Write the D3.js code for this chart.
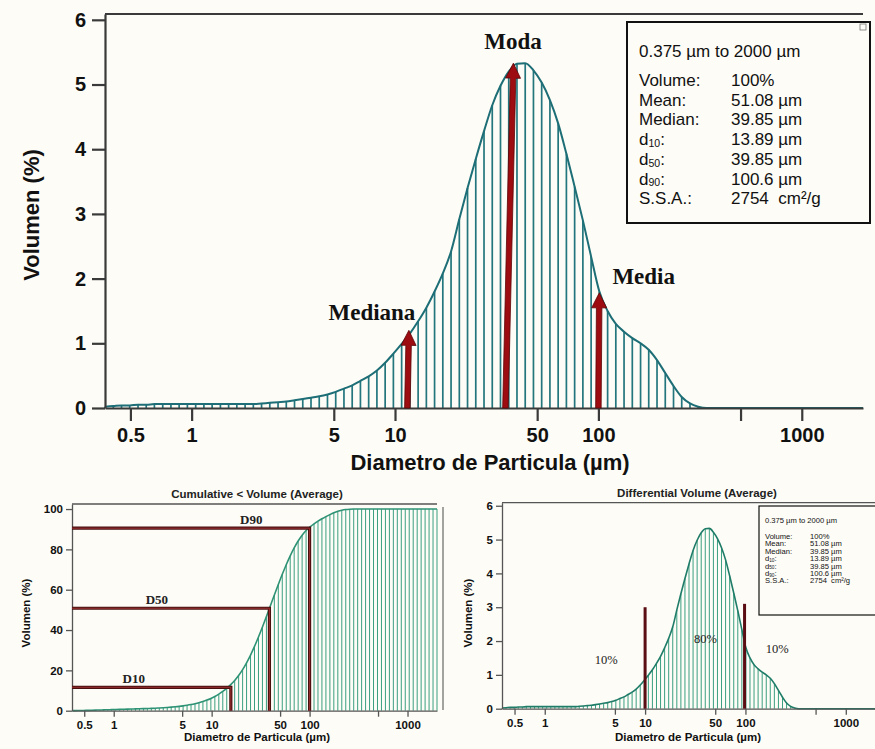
<!DOCTYPE html>
<html>
<head>
<meta charset="utf-8">
<script src="https://cdn.jsdelivr.net/npm/d3@7"></script>
<style>
    body { margin: 0; background: #fdfcf6; }
    text { font-family: "Liberation Sans", Arial, sans-serif; }
    .serif { font-family: "Liberation Serif", "Times New Roman", serif; }
</style>
</head>
<body>
<script>
(function () {
    "use strict";

    // instrument size channels (µm)
    var channels = [
        0.375, 0.412, 0.452, 0.496, 0.545, 0.598, 0.656, 0.721, 0.791, 0.868,
        0.953, 1.047, 1.149, 1.261, 1.385, 1.520, 1.668, 1.832, 2.011, 2.207,
        2.423, 2.660, 2.920, 3.205, 3.519, 3.863, 4.240, 4.655, 5.110, 5.610,
        6.158, 6.760, 7.421, 8.147, 8.943, 9.817, 10.78, 11.83, 12.99, 14.26,
        15.65, 17.18, 18.86, 20.71, 22.73, 24.95, 27.39, 30.07, 33.01, 36.24,
        39.78, 43.67, 47.94, 52.62, 57.77, 63.41, 69.61, 76.42, 83.89, 92.09,
        101.1, 111.0, 121.8, 133.7, 146.8, 161.2, 176.8, 194.2, 213.2, 234.1,
        256.9, 282.1, 309.6, 339.9, 373.1, 409.6, 449.7, 493.6, 541.9, 594.9,
        653.0, 716.8, 786.9, 863.9, 948.3, 1041, 1143, 1255, 1377, 1512,
        1660, 1822, 2000
    ];

    // differential volume (%) per channel
    var volume = [
        0.02, 0.03, 0.04, 0.04, 0.05, 0.05, 0.06, 0.06, 0.06, 0.06,
        0.06, 0.06, 0.06, 0.06, 0.06, 0.06, 0.06, 0.06, 0.06, 0.07,
        0.08, 0.09, 0.10, 0.12, 0.14, 0.16, 0.18, 0.21, 0.25, 0.30,
        0.35, 0.42, 0.49, 0.58, 0.70, 0.84, 0.99, 1.15, 1.34, 1.55,
        1.80, 2.08, 2.42, 2.92, 3.40, 3.85, 4.28, 4.68, 4.98, 5.20,
        5.32, 5.33, 5.22, 5.03, 4.76, 4.40, 3.93, 3.42, 2.90, 2.34,
        1.80, 1.50, 1.30, 1.18, 1.08, 1.00, 0.90, 0.74, 0.54, 0.34,
        0.17, 0.07, 0.02, 0, 0, 0, 0, 0, 0, 0,
        0, 0, 0, 0, 0, 0, 0, 0, 0, 0,
        0, 0, 0
    ];

    // cumulative < volume is the running total of the differential one
    var cumulative = Array.from(d3.cumsum(volume), function (v) { return Math.min(v, 100); });

    var xTicks = [0.5, 1, 5, 10, 50, 100, 500, 1000];
    var xTickLabels = ["0.5", "1", "5", "10", "50", "100", "", "1000"];
    var yTicksDiff = [0, 1, 2, 3, 4, 5, 6];
    var yTicksCum = [0, 20, 40, 60, 80, 100];

    var rangeLabel = "0.375 µm to 2000 µm";
    var statNames = ["Volume:", "Mean:", "Median:", "d10:", "d50:", "d90:", "S.S.A.:"];
    var statValues = ["100%", "51.08 µm", "39.85 µm", "13.89 µm", "39.85 µm", "100.6 µm", "2754  cm²/g"];

    // arrows on the main plot: [label, base size, tip size, tip value, label size, label value]
    var arrows = [
        ["Mediana", 11.5, 11.7, 1.2, 7.7, 1.36],
        ["Moda", 34.9, 38.2, 5.33, 38.0, 5.55],
        ["Media", 100, 101, 1.78, 167, 1.92]
    ];

    // D lines on the cumulative plot: [label, size, percent, label size]
    var dLines = [
        ["D10", 15.7, 11.6, 1.6],
        ["D50", 38.9, 50.8, 2.76],
        ["D90", 100, 90.5, 25.4]
    ];

    // split markers on the small differential plot
    var splits = [[10, 3.0], [98, 3.1]];
    var splitLabels = [["10%", 4.1, 1.44], ["80%", 40, 2.08], ["10%", 207, 1.78]];

    var svg = d3.select("body").append("svg")
            .attr("width", 875)
            .attr("height", 749);

    svg.append("rect")
            .attr("width", 875)
            .attr("height", 749)
            .attr("fill", "#fdfcf6");

    function drawPanel(o) {
        var x = d3.scaleLog().domain([0.375, 2000]).range(o.xRange);
        var y = d3.scaleLinear().domain(o.yDomain).range(o.yRange);
        var g = svg.append("g");

        // top frame line
        g.append("line")
                .attr("x1", o.xRange[0]).attr("x2", o.xRange[1])
                .attr("y1", o.yRange[1]).attr("y2", o.yRange[1])
                .attr("stroke", o.axisColor)
                .attr("stroke-width", o.axisWidth);

        // hatching under the curve
        g.append("g").selectAll("line")
                .data(channels)
                .join("line")
                .attr("x1", function (d) { return x(d); })
                .attr("x2", function (d) { return x(d); })
                .attr("y1", y(0))
                .attr("y2", function (d, i) { return y(o.values[i]); })
                .attr("stroke", o.hatch)
                .attr("stroke-width", o.hatchWidth);

        g.append("path")
                .datum(channels)
                .attr("fill", "none")
                .attr("stroke", o.line)
                .attr("stroke-width", o.lineWidth)
                .attr("d", d3.line()
                        .x(function (d) { return x(d); })
                        .y(function (d, i) { return y(o.values[i]); })
                        .curve(d3.curveMonotoneX));

        var xAxis = g.append("g")
                .attr("transform", "translate(0," + o.yRange[0] + ")")
                .call(d3.axisBottom(x)
                        .tickValues(xTicks)
                        .tickFormat(function (d, i) { return xTickLabels[i]; })
                        .tickSize(o.tick)
                        .tickSizeOuter(0)
                        .tickPadding(o.xPad));

        var yAxis = g.append("g")
                .attr("transform", "translate(" + o.xRange[0] + ",0)")
                .call(d3.axisLeft(y)
                        .tickValues(o.yTicks)
                        .tickFormat(d3.format("d"))
                        .tickSize(o.tick)
                        .tickSizeOuter(0)
                        .tickPadding(o.yPad));

        [xAxis, yAxis].forEach(function (a) {
            a.selectAll("path, line")
                    .attr("stroke", o.axisColor)
                    .attr("stroke-width", o.axisWidth);
            a.selectAll("text")
                    .attr("fill", "#111")
                    .attr("font-weight", "bold")
                    .attr("font-size", o.tickFont)
                    .attr("font-family", "Liberation Sans, Arial, sans-serif");
        });

        g.append("text")
                .attr("x", o.xTitle[0])
                .attr("y", o.xTitle[1])
                .attr("text-anchor", "middle")
                .attr("font-weight", "bold")
                .attr("font-size", o.titleFont)
                .attr("fill", "#111")
                .text("Diametro de Particula (µm)");

        g.append("text")
                .attr("transform", "translate(" + o.yTitle[0] + "," + o.yTitle[1] + ") rotate(-90)")
                .attr("text-anchor", "middle")
                .attr("dy", "0.35em")
                .attr("font-weight", "bold")
                .attr("font-size", o.titleFont)
                .attr("fill", "#111")
                .text("Volumen (%)");

        if (o.title) {
            g.append("text")
                    .attr("x", o.title[0])
                    .attr("y", o.title[1])
                    .attr("text-anchor", "middle")
                    .attr("font-weight", "bold")
                    .attr("font-size", o.title[3])
                    .attr("fill", "#222")
                    .text(o.title[2]);
        }

        return {x: x, y: y, g: g};
    }

    function drawStats(g, left, top, right, bottom, o) {
        g.append("rect")
                .attr("x", left).attr("y", top)
                .attr("width", right - left).attr("height", bottom - top)
                .attr("fill", "#fdfcf6")
                .attr("stroke", "#111")
                .attr("stroke-width", o.border);

        g.append("text")
                .attr("x", o.textX).attr("y", o.headY)
                .attr("font-size", o.font)
                .attr("fill", "#111")
                .text(rangeLabel);

        statNames.forEach(function (name, i) {
            var yy = o.rowY + i * o.rowH;
            var t = g.append("text")
                    .attr("x", o.textX).attr("y", yy)
                    .attr("font-size", o.font)
                    .attr("fill", "#111");
            var m = name.match(/^d(\d+):$/);
            if (m) {
                t.append("tspan").text("d");
                t.append("tspan")
                        .attr("font-size", o.font * 0.62)
                        .attr("dy", o.font * 0.1)
                        .text(m[1]);
                t.append("tspan")
                        .attr("dy", -o.font * 0.1)
                        .text(":");
            } else {
                t.text(name);
            }
            g.append("text")
                    .attr("x", o.valueX).attr("y", yy)
                    .attr("font-size", o.font)
                    .attr("fill", "#111")
                    .attr("xml:space", "preserve")
                    .text(statValues[i]);
        });
    }

    function arrow(g, x0, y0, x1, y1, shaft, head, headLen, color) {
        var a = Math.atan2(y1 - y0, x1 - x0);
        var ux = Math.cos(a), uy = Math.sin(a);
        var nx = -uy, ny = ux;
        var bx = x1 - ux * headLen, by = y1 - uy * headLen;
        var p = [
            [x0 + nx * shaft / 2, y0 + ny * shaft / 2],
            [bx + nx * shaft / 2, by + ny * shaft / 2],
            [bx + nx * head / 2, by + ny * head / 2],
            [x1, y1],
            [bx - nx * head / 2, by - ny * head / 2],
            [bx - nx * shaft / 2, by - ny * shaft / 2],
            [x0 - nx * shaft / 2, y0 - ny * shaft / 2]
        ];
        g.append("path")
                .attr("d", "M" + p.join("L") + "Z")
                .attr("fill", color)
                .attr("stroke", "#5e0508")
                .attr("stroke-width", 0.8);
    }

    /*
     * MAIN DIFFERENTIAL PLOT
     */
    var main = drawPanel({
        xRange: [105, 863], yDomain: [0, 6.09], yRange: [408, 14],
        values: volume, yTicks: yTicksDiff,
        hatch: "#23767d", hatchWidth: 1.7, line: "#1d6e76", lineWidth: 2,
        axisColor: "#3a3a3a", axisWidth: 2.2, tick: 13, xPad: 7, yPad: 6,
        tickFont: 20, titleFont: 22,
        xTitle: [490, 470], yTitle: [31, 215]
    });

    arrows.forEach(function (a) {
        arrow(main.g, main.x(a[1]), main.y(0), main.x(a[2]), main.y(a[3]), 5.5, 15, 15, "#9c0c10");
        main.g.append("text")
                .attr("class", "serif")
                .attr("x", main.x(a[4]))
                .attr("y", main.y(a[5]))
                .attr("text-anchor", "middle")
                .attr("font-weight", "bold")
                .attr("font-size", 23)
                .attr("fill", "#111")
                .text(a[0]);
    });

    drawStats(main.g, 627, 22, 870, 223, {
        border: 2, font: 17, textX: 639, headY: 57, rowY: 86, rowH: 19.7, valueX: 731
    });
    main.g.append("rect")
            .attr("x", 860).attr("y", 24).attr("width", 6).attr("height", 6)
            .attr("fill", "none").attr("stroke", "#777").attr("stroke-width", 0.8);

    /*
     * CUMULATIVE PLOT
     */
    var cum = drawPanel({
        xRange: [72, 437], yDomain: [0, 102.5], yRange: [710.7, 504],
        values: cumulative, yTicks: yTicksCum,
        hatch: "#3a9f80", hatchWidth: 1, line: "#2e9275", lineWidth: 1.6,
        axisColor: "#555", axisWidth: 1.3, tick: 6, xPad: 4, yPad: 3,
        tickFont: 11.5, titleFont: 11.5,
        xTitle: [257, 741], yTitle: [26, 613],
        title: [257, 498, "Cumulative < Volume (Average)", 11.5]
    });

    dLines.forEach(function (d) {
        var px = cum.x(d[1]), py = cum.y(d[2]);
        cum.g.append("path")
                .attr("d", "M" + cum.x(0.375) + "," + py + "H" + px + "V" + cum.y(0))
                .attr("fill", "none")
                .attr("stroke", "#4a1010")
                .attr("stroke-width", 3.2);
        cum.g.append("path")
                .attr("d", "M" + cum.x(0.375) + "," + py + "H" + px + "V" + cum.y(0))
                .attr("fill", "none")
                .attr("stroke", "#9a3030")
                .attr("stroke-width", 1);
        cum.g.append("text")
                .attr("class", "serif")
                .attr("x", cum.x(d[3]))
                .attr("y", py - 4)
                .attr("text-anchor", "middle")
                .attr("font-weight", "bold")
                .attr("font-size", 13)
                .attr("fill", "#222")
                .text(d[0]);
    });

    // thin divider between the two small plots
    svg.append("line")
            .attr("x1", 443).attr("x2", 443)
            .attr("y1", 507).attr("y2", 710)
            .attr("stroke", "#666")
            .attr("stroke-width", 1.2);

    /*
     * SMALL DIFFERENTIAL PLOT
     */
    var diff = drawPanel({
        xRange: [502, 876], yDomain: [0, 6.09], yRange: [708.7, 502.7],
        values: volume, yTicks: yTicksDiff,
        hatch: "#3a9f80", hatchWidth: 1, line: "#1f7c68", lineWidth: 1.6,
        axisColor: "#555", axisWidth: 1.3, tick: 6, xPad: 4, yPad: 3,
        tickFont: 11.5, titleFont: 11.5,
        xTitle: [688, 741], yTitle: [468, 613],
        title: [697, 497, "Differential Volume (Average)", 11.5]
    });

    splits.forEach(function (s) {
        diff.g.append("line")
                .attr("x1", diff.x(s[0])).attr("x2", diff.x(s[0]))
                .attr("y1", diff.y(0)).attr("y2", diff.y(s[1]))
                .attr("stroke", "#5a0d12")
                .attr("stroke-width", 3);
    });

    splitLabels.forEach(function (s) {
        diff.g.append("text")
                .attr("class", "serif")
                .attr("x", diff.x(s[1]))
                .attr("y", diff.y(s[2]))
                .attr("dy", "0.35em")
                .attr("text-anchor", "middle")
                .attr("font-size", 12.5)
                .attr("fill", "#222")
                .text(s[0]);
    });

    drawStats(diff.g, 759, 506, 880, 615, {
        border: 1.2, font: 7.6, textX: 765, headY: 523.3, rowY: 539, rowH: 7.4, valueX: 810
    });
})();
</script>
</body>
</html>
